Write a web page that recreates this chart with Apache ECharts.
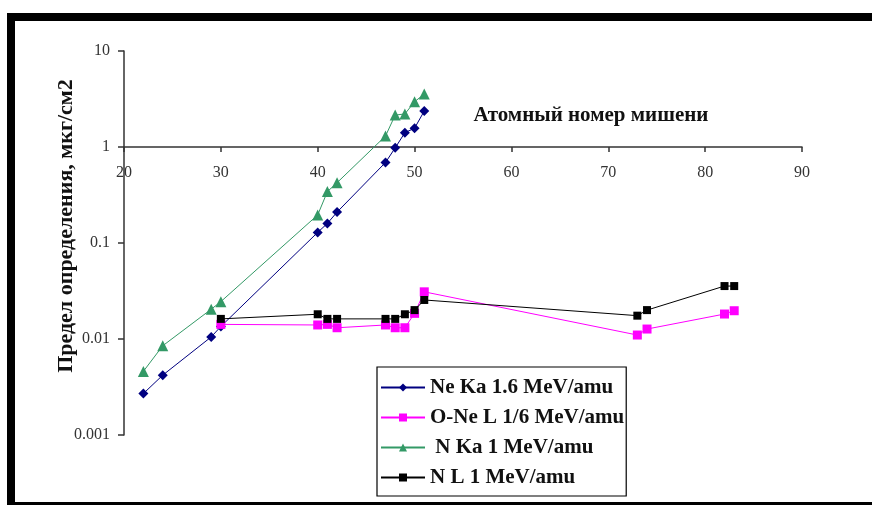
<!DOCTYPE html>
<html>
<head>
<meta charset="utf-8">
<script src="https://cdn.jsdelivr.net/npm/echarts@6/dist/echarts.min.js"></script>
<style>
html,body{margin:0;padding:0;background:#fff;}
#chart{width:872px;height:505px;}
</style>
</head>
<body>
<div id="chart"></div>
<script>
// ---- data ----
var xTicks = [20, 30, 40, 50, 60, 70, 80, 90];
var yTickLabels = {"0.001": "0.001", "0.01": "0.01", "0.1": "0.1", "1": "1", "10": "10"};

var neKaZ   = [22, 24, 29, 30, 40, 41, 42, 47, 48, 49, 50, 51];
var neKaVal = [0.0027, 0.0042, 0.0105, 0.0135, 0.129, 0.16, 0.21, 0.69, 0.98, 1.41, 1.57, 2.37];

var oNeLZ   = [30, 40, 41, 42, 47, 48, 49, 50, 51, 73, 74, 82, 83];
var oNeLVal = [0.0142, 0.014, 0.0142, 0.0131, 0.014, 0.0131, 0.0131, 0.0185, 0.031, 0.011, 0.0127, 0.0182, 0.0197];

var nKaZ    = [22, 24, 29, 30, 40, 41, 42, 47, 48, 49, 50, 51];
var nKaVal  = [0.0046, 0.0085, 0.0204, 0.0245, 0.196, 0.343, 0.425, 1.30, 2.15, 2.21, 2.96, 3.56];

var nLZ     = [30, 40, 41, 42, 47, 48, 49, 50, 51, 73, 74, 82, 83];
var nLVal   = [0.0162, 0.0181, 0.0162, 0.0162, 0.0162, 0.0162, 0.0181, 0.020, 0.0255, 0.0175, 0.020, 0.0356, 0.0356];

var seriesNames = ["Ne Ka 1.6 MeV/amu", "O-Ne L 1/6 MeV/amu", " N Ka 1 MeV/amu", "N L 1 MeV/amu"];
var xTitle = "Атомный номер мишени";
var yTitle = "Предел определения, мкг/см2";

function pairs(xs, ys) { return xs.map(function (x, i) { return [x, ys[i]]; }); }

var serif = "'Liberation Serif', 'DejaVu Serif', serif";
var chart = echarts.init(document.getElementById('chart'), null, {renderer: 'canvas'});

function lineSeries(name, xs, ys, color, lineColor, symbol, size) {
  return {
    name: name, type: 'line', data: pairs(xs, ys),
    symbol: symbol, symbolSize: size,
    lineStyle: {color: lineColor, width: 1},
    itemStyle: {color: color},
    emphasis: {disabled: true},
    animation: false, z: 3
  };
}

var option = {
  backgroundColor: '#ffffff',
  animation: false,
  grid: {left: 124, right: 70, top: 51, bottom: 70, containLabel: false},
  xAxis: {
    type: 'value', min: 20, max: 90, interval: 10,
    position: 'top', offset: -96,
    axisLine: {show: true, lineStyle: {color: '#333', width: 1.5}},
    axisTick: {show: true, inside: true, length: 5, lineStyle: {color: '#333', width: 1.5}},
    axisLabel: {inside: true, margin: 18, color: '#333', fontFamily: serif, fontSize: 16,
      formatter: function (v) { return xTicks.indexOf(v) >= 0 ? String(v) : ''; }},
    splitLine: {show: false}
  },
  yAxis: {
    type: 'log', logBase: 10, min: 0.001, max: 10,
    axisLine: {show: true, lineStyle: {color: '#333', width: 1.5}},
    axisTick: {show: true, length: 6, lineStyle: {color: '#333', width: 1.5}},
    axisLabel: {margin: 14, color: '#333', fontFamily: serif, fontSize: 16,
      formatter: function (v) {
        var k = String(+v.toPrecision(3));
        return yTickLabels[k] !== undefined ? yTickLabels[k] : k;
      }},
    splitLine: {show: false}
  },
  legend: {
    orient: 'vertical', left: 377, top: 367,
    padding: [10, 2, 8, 3],
    itemGap: 9, itemWidth: 44, itemHeight: 10,
    borderColor: '#000', borderWidth: 1.2, backgroundColor: '#fff',
    textStyle: {fontFamily: serif, fontSize: 21, fontWeight: 'bold', color: '#111'},
    data: seriesNames
  },
  graphic: [
    {type: 'rect', shape: {x: 7, y: 13, width: 865, height: 8}, style: {fill: '#000'}, z: 100},
    {type: 'rect', shape: {x: 7, y: 13, width: 8, height: 492}, style: {fill: '#000'}, z: 100},
    {type: 'rect', shape: {x: 7, y: 502, width: 865, height: 3}, style: {fill: '#000'}, z: 100},
    {type: 'text', x: 591, y: 116, z: 50,
      style: {text: xTitle, fill: '#111', font: "bold 21px 'Liberation Serif', serif", textAlign: 'center', textVerticalAlign: 'middle'}},
    {type: 'text', x: 66, y: 226, rotation: Math.PI / 2, z: 50,
      style: {text: yTitle, fill: '#111', font: "bold 22px 'Liberation Serif', serif", textAlign: 'center', textVerticalAlign: 'middle'}}
  ],
  series: [
    lineSeries(seriesNames[0], neKaZ, neKaVal, '#000080', '#000080', 'diamond', 10),
    lineSeries(seriesNames[1], oNeLZ, oNeLVal, '#FF00FF', '#FF00FF', 'rect', 9),
    lineSeries(seriesNames[2], nKaZ, nKaVal, '#339966', '#339966', 'triangle', 11),
    lineSeries(seriesNames[3], nLZ, nLVal, '#000000', '#000000', 'rect', 8)
  ]
};
chart.setOption(option);
</script>
</body>
</html>
